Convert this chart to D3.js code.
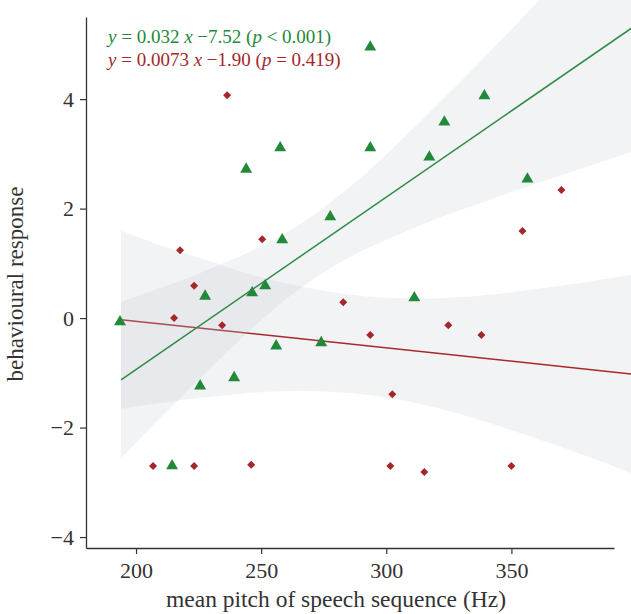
<!DOCTYPE html>
<html>
<head>
<meta charset="utf-8">
<script src="https://cdn.jsdelivr.net/npm/d3@7"></script>
<style>
  html, body { margin: 0; padding: 0; background: #fff; }
  svg { display: block; }
  text { font-family: "Liberation Serif", "Times New Roman", "DejaVu Serif", serif; }
</style>
</head>
<body>
<svg id="chart" width="631" height="614"></svg>
<script>
// ---- data ----
const xTicks = [200, 250, 300, 350];
const yTicks = [-4, -2, 0, 2, 4];

// green triangles (pitch Hz, behavioural response)
const greenX = [193.6, 214.4, 225.6, 227.6, 239.2, 244.0, 246.4, 251.6, 257.6, 258.4, 256.0, 274.0, 277.6, 293.6, 293.6, 311.2, 317.2, 323.2, 339.2, 356.4];
const greenY = [-0.07, -2.70, -1.24, 0.40, -1.09, 2.72, 0.46, 0.59, 3.11, 1.43, -0.51, -0.45, 1.85, 4.95, 3.11, 0.37, 2.94, 3.58, 4.06, 2.54];

// red diamonds
const redX = [206.8, 215.2, 217.6, 223.2, 223.2, 234.4, 236.4, 246.0, 250.4, 282.8, 293.6, 302.4, 324.8, 338.0, 301.6, 315.2, 350.0, 354.4, 370.0];
const redY = [-2.70, 0.00, 1.24, -2.70, 0.59, -0.13, 4.07, -2.68, 1.44, 0.29, -0.31, -1.39, -0.13, -0.31, -2.70, -2.81, -2.70, 1.59, 2.34];

// fitted lines (end points)
const fitX = [194, 400];
const greenFit = [-1.13, 5.36];
const redFit = [-0.03, -1.03];

// confidence bands
const bandX = [194, 205, 215, 225, 240, 255, 270, 285, 300, 320, 340, 360, 380, 400];
const greenLow  = [-2.56, -2.04, -1.58, -1.12, -0.46, 0.16, 0.68, 1.10, 1.43, 1.81, 2.14, 2.46, 2.76, 3.07];
const greenHigh = [0.30, 0.47, 0.64, 0.81, 1.10, 1.43, 1.85, 2.38, 2.99, 3.88, 4.80, 5.75, 6.70, 7.66];
const redLow  = [-1.66, -1.58, -1.52, -1.46, -1.39, -1.34, -1.33, -1.37, -1.45, -1.64, -1.90, -2.20, -2.52, -2.87];
const redHigh = [1.60, 1.41, 1.25, 1.10, 0.88, 0.69, 0.54, 0.43, 0.37, 0.36, 0.42, 0.53, 0.66, 0.81];

const eqGreen = ["y", " = 0.032 ", "x", " −7.52 (", "p", " < 0.001)"];
const eqRed   = ["y", " = 0.0073 ", "x", " −1.90 (", "p", " = 0.419)"];

// ---- drawing ----
const GREEN = "#23893a", GREEN_LINE = "#2e8b45", RED = "#a3282b", RED_LINE = "#a8282c";
const svg = d3.select("#chart");
const x = d3.scaleLinear().domain([180, 391]).range([86, 614]);
const y = d3.scaleLinear().domain([-4.2, 5.5]).range([548, 17]);

function band(lo, hi) {
  return d3.area().curve(d3.curveNatural)
    .x((d, i) => x(bandX[i])).y0((d, i) => y(lo[i])).y1((d, i) => y(hi[i]))(bandX);
}
const line = d3.line().x((d, i) => x(fitX[i])).y(d => y(d));

svg.append("path").attr("d", band(redLow, redHigh))
  .attr("fill", "rgb(196,201,210)").attr("fill-opacity", 0.22);
svg.append("path").attr("d", line(redFit))
  .attr("fill", "none").attr("stroke", RED_LINE).attr("stroke-width", 1.5);
svg.append("path").attr("d", band(greenLow, greenHigh))
  .attr("fill", "rgb(196,201,210)").attr("fill-opacity", 0.22);
svg.append("path").attr("d", line(greenFit))
  .attr("fill", "none").attr("stroke", GREEN_LINE).attr("stroke-width", 1.5);

// axes
const xAxis = d3.axisBottom(x).tickValues(xTicks).tickSize(6).tickSizeOuter(0).tickPadding(5);
const yAxis = d3.axisLeft(y).tickValues(yTicks).tickSize(6).tickSizeOuter(0).tickPadding(6);
const gx = svg.append("g").attr("transform", "translate(0,548)").call(xAxis);
const gy = svg.append("g").attr("transform", "translate(86,0)").call(yAxis);
[gx, gy].forEach(g => {
  g.select(".domain").attr("stroke", "#333").attr("stroke-width", 1.3);
  g.selectAll(".tick line").attr("stroke", "#333").attr("stroke-width", 1.2);
  g.selectAll(".tick text").attr("fill", "#333").attr("font-size", 22)
    .style("font-family", "'Liberation Serif', 'Times New Roman', serif");
});
gx.selectAll(".tick text").attr("dy", "0.85em");

// markers
const tri = d3.symbol().type(d3.symbolTriangle).size(62)();
const dia = d3.symbol().type(d3.symbolSquare).size(32)();
svg.append("g").selectAll("path").data(redX).join("path")
  .attr("d", dia).attr("fill", RED)
  .attr("transform", (d, i) => `translate(${x(d)},${y(redY[i])}) rotate(45)`);
svg.append("g").selectAll("path").data(greenX).join("path")
  .attr("d", tri).attr("fill", GREEN)
  .attr("transform", (d, i) => `translate(${x(d)},${y(greenY[i])})`);

// axis titles
svg.append("text").attr("x", 336).attr("y", 607).attr("text-anchor", "middle")
  .attr("font-size", 23.5).attr("fill", "#333").text("mean pitch of speech sequence (Hz)");
svg.append("text").attr("transform", "translate(23,284) rotate(-90)").attr("text-anchor", "middle")
  .attr("font-size", 23).attr("fill", "#333").text("behavioural response");

// equations
function eq(parts, color, yy) {
  const t = svg.append("text").attr("x", 108).attr("y", yy).attr("font-size", 19).attr("fill", color);
  parts.forEach((p, i) => t.append("tspan").attr("font-style", i % 2 === 0 ? "italic" : "normal").text(p));
}
eq(eqGreen, GREEN, 43);
eq(eqRed, RED, 66);
</script>
</body>
</html>
